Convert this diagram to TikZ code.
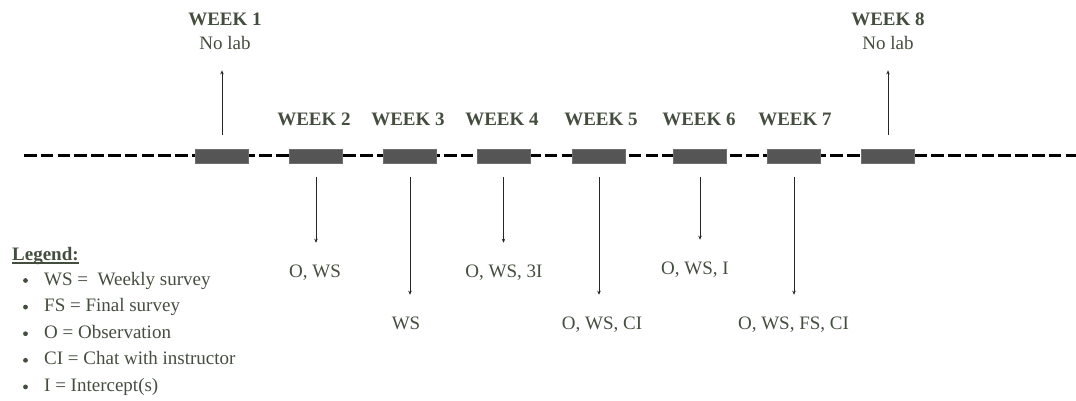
\documentclass[tikz,border=0pt]{standalone}
\usepackage{fontspec}
\setmainfont{Liberation Serif}
\usetikzlibrary{arrows.meta}
\definecolor{txt}{RGB}{68,78,62}
\definecolor{boxc}{RGB}{85,85,85}
\begin{document}
\begin{tikzpicture}[x=1pt,y=-1pt,
  wkbox/.style={rectangle, fill=boxc, draw=boxc!85!white, line width=0.5pt, minimum width=53pt, minimum height=14pt, inner sep=0pt},
  head/.style={font=\fontsize{19}{23}\selectfont\bfseries, text=txt, inner sep=0pt, anchor=base},
  lab/.style={font=\fontsize{19}{23}\selectfont, text=txt, inner sep=0pt, anchor=base},
  arr/.style={-{Stealth[length=4pt,width=3.5pt]}, line width=0.9pt, draw=black!85},
  timeline/.style={line width=2.8pt, dash pattern=on 12.5pt off 4.3pt},
  bul/.style={circle, fill=txt, inner sep=0pt, minimum size=4.8pt}]
\useasboundingbox (0,0) rectangle (1076,401);

% timeline
\coordinate (tl0) at (24,155.5);
\coordinate (tl1) at (1076,155.5);
\draw[timeline] (tl0) -- (tl1);

% week boxes
\node[wkbox] (b1) at (222,156) {};
\node[wkbox] (b2) at (316,156) {};
\node[wkbox] (b3) at (410,156) {};
\node[wkbox] (b4) at (503.5,156) {};
\node[wkbox] (b5) at (599,156) {};
\node[wkbox] (b6) at (700,156) {};
\node[wkbox] (b7) at (794,156) {};
\node[wkbox] (b8) at (888,156) {};

% headings
\node[head] (h1) at (225,26) {WEEK 1};
\node[lab]  (n1) at (225,50) {No lab};
\node[head] (h2) at (314,125) {WEEK 2};
\node[head] (h3) at (408,125) {WEEK 3};
\node[head] (h4) at (502,125) {WEEK 4};
\node[head] (h5) at (601,125) {WEEK 5};
\node[head] (h6) at (699,125) {WEEK 6};
\node[head] (h7) at (795,125) {WEEK 7};
\node[head] (h8) at (888,26) {WEEK 8};
\node[lab]  (n8) at (888,50) {No lab};

% up arrows
\draw[arr, shorten <=14pt, shorten >=20pt] (b1.north) -- (b1.north |- n1.south);
\draw[arr, shorten <=14pt, shorten >=20pt] (b8.north) -- (b8.north |- n8.south);

% lower labels
\node[lab] (l2) at (315,277.5) {O, WS};
\node[lab] (l3) at (406,329.5) {WS};
\node[lab] (l4) at (504,277.5) {O, WS, 3I};
\node[lab] (l5) at (602,329.5) {O, WS, CI};
\node[lab] (l6) at (695,274.5) {O, WS, I};
\node[lab] (l7) at (793.5,329.5) {O, WS, FS, CI};

% down arrows
\foreach \b/\l in {b2/l2,b3/l3,b4/l4,b5/l5,b6/l6,b7/l7}
  \draw[arr, shorten <=14pt, shorten >=22pt] (\b.south) -- (\b.south |- \l.north);

% legend
\node[head, anchor=base west] (leg) at (12,260) {Legend:};
\draw[txt, line width=1.2pt] ([yshift=-3pt]leg.base west) -- ([yshift=-3pt]leg.base east);
\node[lab, anchor=base west] (i1) at (44,285) {WS = \ Weekly survey};
\node[lab, anchor=base west] (i2) at (44,311.6) {FS = Final survey};
\node[lab, anchor=base west] (i3) at (44,338.2) {O = Observation};
\node[lab, anchor=base west] (i4) at (44,364.8) {CI = Chat with instructor};
\node[lab, anchor=base west] (i5) at (44,391.4) {I = Intercept(s)};
\node[bul] (d1) at (25.5,280.5) {};
\node[bul] (d2) at (25.5,307.1) {};
\node[bul] (d3) at (25.5,333.7) {};
\node[bul] (d4) at (25.5,360.3) {};
\node[bul] (d5) at (25.5,386.9) {};
\end{tikzpicture}
\end{document}
